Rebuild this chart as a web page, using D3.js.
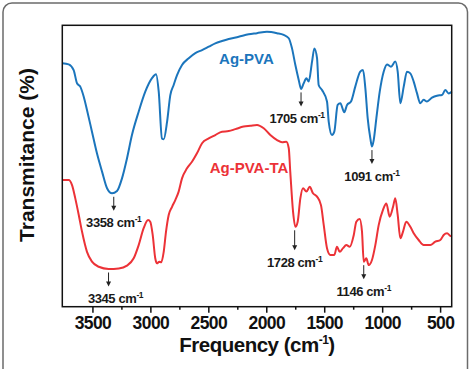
<!DOCTYPE html>
<html>
<head>
<meta charset="utf-8">
<script src="https://cdn.jsdelivr.net/npm/d3@7"></script>
<style>
  body { margin: 0; background: #fff; }
  svg text { font-family: "Liberation Sans", Arial, sans-serif; }
</style>
</head>
<body>
<div id="chart"></div>
<script>
// FTIR spectra (transmittance in arbitrary %, no y ticks)
var pvaFreq = [3760,3705,3662,3633,3605,3575,3547,3504,3461,3417,3374,3331,3288,3245,3202,3159,3101,3044,2986,2951,2928,2900,2885,2856,2828,2799,2770,2727,2669,2612,2554,2497,2440,2382,2324,2238,2152,2080,1994,1907,1850,1806,1778,1749,1720,1700,1677,1654,1634,1605,1585,1562,1548,1519,1476,1461,1433,1413,1384,1361,1327,1303,1269,1232,1189,1165,1145,1125,1102,1088,1073,1050,1021,987,958,924,887,866,843,814,786,757,728,699,671,642,613,570,527,484,455,426,400];
var pvaT = [86.5,86.1,84.1,79.4,78.2,74.6,69.9,62.2,54.5,48.0,42.1,40.3,41.1,45.6,52.7,61.0,69.3,76.4,81.2,82.6,76.4,59.8,59.5,65.7,75.2,78.8,82.3,85.9,88.3,90.1,91.2,92.4,93.6,94.4,95.1,95.9,96.8,97.2,97.7,97.2,96.6,95.4,91.8,85.9,80.6,77.4,79.4,81.2,80.0,87.1,91.8,88.3,78.8,77.0,72.9,65.7,61.0,62.2,71.7,72.3,69.1,71.7,72.9,78.2,83.5,84.1,77.6,67.0,59.8,56.9,59.2,67.0,76.4,83.5,86.1,85.3,87.1,83.5,72.3,78.2,83.5,82.9,80.0,75.8,72.3,73.5,72.9,74.3,75.0,75.2,77.0,75.8,76.4];

var taFreq = [3760,3705,3676,3648,3618,3590,3547,3504,3446,3360,3273,3202,3144,3101,3058,3020,3001,2980,2958,2943,2923,2906,2885,2865,2842,2813,2785,2756,2727,2684,2641,2598,2554,2497,2440,2382,2324,2267,2195,2138,2080,2022,1965,1907,1864,1827,1806,1793,1769,1749,1729,1706,1683,1654,1625,1597,1562,1528,1504,1476,1447,1413,1390,1366,1338,1309,1280,1245,1223,1194,1174,1159,1137,1116,1088,1059,1030,993,964,935,906,887,866,843,820,792,757,728,685,642,585,541,498,469,440,412,400];
var taT = [45.0,45.0,43.2,38.5,32.6,26.7,19.5,16.0,14.2,13.4,13.6,14.6,17.2,21.9,27.9,30.8,30.2,25.5,17.2,15.4,16.0,15.8,19.5,26.7,32.6,35.5,37.9,40.9,45.6,49.2,51.5,54.5,58.1,59.8,61.0,62.2,62.4,63.1,64.0,64.3,64.6,63.4,61.0,59.2,58.4,58.6,56.3,48.0,33.8,28.4,30.2,38.5,42.1,40.9,42.6,40.3,39.1,36.1,29.0,20.8,18.4,18.4,21.3,19.5,20.8,21.9,21.3,25.5,30.2,31.2,26.7,16.0,17.2,14.8,16.6,21.9,29.0,34.4,36.7,32.0,35.5,38.5,32.6,24.3,26.7,30.2,28.4,26.1,23.7,21.9,21.9,23.1,23.7,25.5,26.1,25.2,25.0];

var xTicks = [3500, 3000, 2500, 2000, 1500, 1000, 500];
var xMinorTicks = [3250, 2750, 2250, 1750, 1250, 750];

// peak annotations: label text, which series, where the arrow sits
var peakLabels = ["3358", "3345", "1705", "1091", "1728", "1146"];
var peakSeries = [0, 1, 0, 0, 1, 1];
var peakArrowAt = [3316, 3361, 1700, 1088, 1755, 1159];

var seriesNames = ["Ag-PVA", "Ag-PVA-TA"];
var seriesColors = ["#1b75bc", "#ec3237"];

var W = 474, H = 369;
var margin = { top: 25.3, right: 22.3, bottom: 62.3, left: 62.3 },
    width = W - margin.left - margin.right,
    height = H - margin.top - margin.bottom;

var svg = d3.select("#chart").append("svg")
    .attr("width", W)
    .attr("height", H);

// outer panel frame
svg.append("rect")
    .attr("x", 3).attr("y", 3)
    .attr("width", 464.5).attr("height", 420)
    .attr("rx", 9)
    .attr("fill", "none")
    .attr("stroke", "#6b6b6b")
    .attr("stroke-width", 1.5);

var g = svg.append("g")
    .attr("transform", "translate(" + margin.left + "," + margin.top + ")");

var x = d3.scaleLinear().domain([3760, 400]).range([0, width]);
var y = d3.scaleLinear().domain([0, 100]).range([height, 0]);

var series = [
  pvaFreq.map(function(f, i) { return { f: f, t: pvaT[i] }; }),
  taFreq.map(function(f, i) { return { f: f, t: taT[i] }; })
];

var line = d3.line()
    .x(function(d) { return x(d.f); })
    .y(function(d) { return y(d.t); })
    .curve(d3.curveMonotoneX);

g.selectAll(".spec")
    .data(series)
    .enter().append("path")
    .attr("class", "spec")
    .attr("d", line)
    .attr("fill", "none")
    .attr("stroke", function(d, i) { return seriesColors[i]; })
    .attr("stroke-width", 2)
    .attr("stroke-linejoin", "round");

// series names
var namePos = [[2171, 86.2], [2149, 47.5]];
g.selectAll(".sname")
    .data(seriesNames)
    .enter().append("text")
    .attr("class", "sname")
    .attr("x", function(d, i) { return x(namePos[i][0]); })
    .attr("y", function(d, i) { return y(namePos[i][1]); })
    .attr("text-anchor", "middle")
    .attr("fill", function(d, i) { return seriesColors[i]; })
    .style("font-size", "15px")
    .style("font-weight", "bold")
    .text(function(d) { return d; });

// peak arrows + labels
function valueAt(s, f) {
  var best = s[0];
  s.forEach(function(d) { if (Math.abs(d.f - f) < Math.abs(best.f - f)) best = d; });
  return best.t;
}

peakLabels.forEach(function(lab, i) {
  var s = series[peakSeries[i]];
  var px = x(peakArrowAt[i]);
  var y0 = y(valueAt(s, peakArrowAt[i])) + 3.5;
  var len = lab === "1728" ? 20 : 14;
  var y1 = y0 + len;
  g.append("line")
      .attr("x1", px).attr("x2", px)
      .attr("y1", y0).attr("y2", y1 - 3)
      .attr("stroke", "#222").attr("stroke-width", 1);
  g.append("path")
      .attr("d", "M" + (px - 2.5) + "," + (y1 - 5) + "L" + (px + 2.5) + "," + (y1 - 5) + "L" + px + "," + y1 + "Z")
      .attr("fill", "#222");
  var t = g.append("text")
      .attr("x", px + (lab === "3345" ? 7 : lab === "1705" ? -4 : 0))
      .attr("y", y1 + 16.5)
      .attr("text-anchor", "middle")
      .attr("fill", "#1a1a1a")
      .style("font-size", "13px")
      .style("font-weight", "bold")
      .style("letter-spacing", "-0.4px");
  t.append("tspan").text(lab + " cm");
  t.append("tspan").attr("dy", -5).style("font-size", "8.5px").text("-1");
});

// plot frame
g.append("rect")
    .attr("width", width).attr("height", height)
    .attr("fill", "none")
    .attr("stroke", "#111")
    .attr("stroke-width", 1.5);

// x axis: major + minor ticks
var xAxis = g.append("g")
    .attr("transform", "translate(0," + height + ")")
    .call(d3.axisBottom(x).tickValues(xTicks).tickSize(6).tickPadding(4).tickFormat(d3.format("d")));
xAxis.select(".domain").remove();
xAxis.selectAll("line").attr("stroke", "#111").attr("stroke-width", 1.5);
xAxis.selectAll("text")
    .attr("fill", "#111")
    .style("font-size", "17.5px")
    .style("font-weight", "bold")
    .style("letter-spacing", "-0.6px")
    .style("font-family", "'Liberation Sans', Arial, sans-serif");

var minor = g.append("g")
    .attr("transform", "translate(0," + height + ")")
    .call(d3.axisBottom(x).tickValues(xMinorTicks).tickSize(3).tickFormat(""));
minor.select(".domain").remove();
minor.selectAll("line").attr("stroke", "#111").attr("stroke-width", 1.5);

// axis titles
var xt = svg.append("text")
    .attr("x", margin.left + width / 2)
    .attr("y", 351.5)
    .attr("text-anchor", "middle")
    .attr("fill", "#111")
    .style("font-size", "20.5px")
    .style("font-weight", "bold")
    .style("letter-spacing", "-0.5px");
xt.append("tspan").text("Frequency (cm");
xt.append("tspan").attr("dy", -8).style("font-size", "12px").text("-1");
xt.append("tspan").attr("dy", 8).text(")");

svg.append("text")
    .attr("transform", "translate(34,155) rotate(-90)")
    .attr("text-anchor", "middle")
    .attr("fill", "#111")
    .style("font-size", "21px")
    .style("font-weight", "bold")
    .text("Transmitance (%)");
</script>
</body>
</html>
